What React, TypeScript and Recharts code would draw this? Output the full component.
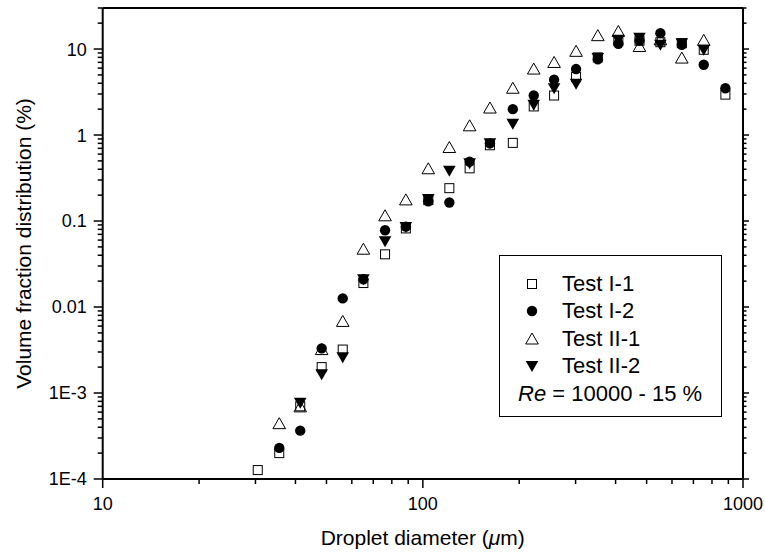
import { ScatterChart, Scatter, XAxis, YAxis, Legend } from 'recharts';

// droplet size classes (um), shared by all four tests
const diameter = [30.5, 35.6, 41.4, 48.3, 56.2, 65.2, 76.2, 88.5, 104, 121, 140, 162, 191, 222, 257, 301, 352, 408, 475, 552, 644, 754, 881];

// volume fraction (%) per class, null = no marker
const testI1 = [1.27e-4, 2.0e-4, 7.0e-4, 2.0e-3, 3.2e-3, 0.019, 0.041, 0.082, 0.175, 0.241, 0.41, 0.76, 0.81, 2.15, 2.88, 4.72, 8.0, 12.5, 12.5, 12.0, 11.7, 9.8, 2.95];
const testI2 = [null, 2.3e-4, 3.65e-4, 3.3e-3, 0.0126, 0.021, 0.078, 0.086, 0.17, 0.164, 0.49, 0.8, 2.0, 2.88, 4.4, 5.85, 7.6, 11.5, 12.5, 15.3, 11.2, 6.57, 3.5];
const testII1 = [null, 4.4e-4, 6.9e-4, 3.2e-3, 6.8e-3, 0.047, 0.115, 0.176, 0.405, 0.716, 1.28, 2.06, 3.5, 5.85, 6.98, 9.4, 14.3, 16.0, 10.7, 12.8, 7.85, 12.6, null];
const testII2 = [null, null, 7.7e-4, 1.65e-3, 2.6e-3, 0.021, 0.058, 0.085, 0.18, 0.384, 0.47, 0.8, 1.35, 2.25, 3.5, 3.95, 7.85, 12.8, 13.5, 11.2, 11.7, 9.8, null];

const xMajor = [10, 100, 1000];
const xMajorLabels = ['10', '100', '1000'];
const yMajor = [1e-4, 1e-3, 0.01, 0.1, 1, 10];
const yMajorLabels = ['1E-4', '1E-3', '0.01', '0.1', '1', '10'];

const FONT = '"Liberation Sans", Arial, Helvetica, sans-serif';

// minor ticks 2..9 within each decade, clipped to the axis range
const minorTicks = (lo: number, hi: number) => {
  const out: number[] = [];
  for (let d = lo; d < hi; d *= 10) {
    for (let m = 2; m <= 9; m++) {
      const v = parseFloat((d * m).toPrecision(6));
      if (v <= hi) out.push(v);
    }
  }
  return out;
};
const xTicks = [...xMajor, ...minorTicks(10, 1000)].sort((a, b) => a - b);
const yTicks = [...yMajor, ...minorTicks(1e-4, 30)].sort((a, b) => a - b);

const isMajor = (v: number) => Math.abs(Math.log10(v) - Math.round(Math.log10(v))) < 1e-6;
const labelFor = (v: number, majors: number[], labels: string[]) => {
  const i = majors.findIndex((m) => Math.abs(Math.log10(m) - Math.log10(v)) < 1e-6);
  return i >= 0 ? labels[i] : '';
};

const toPoints = (vals: (number | null)[]) =>
  diameter.map((x, i) => ({ x, y: vals[i] })).filter((p) => p.y != null);

// marker shapes
const Square = ({ cx, cy }: any) => (
  <rect x={cx - 4.5} y={cy - 4.5} width={9} height={9} fill="none" stroke="#000" strokeWidth={1} />
);
const Circle = ({ cx, cy }: any) => <circle cx={cx} cy={cy} r={5.2} fill="#000" />;
const TriUp = ({ cx, cy }: any) => (
  <path d={`M${cx},${cy - 6} L${cx + 6.3},${cy + 5} L${cx - 6.3},${cy + 5} Z`} fill="none" stroke="#000" strokeWidth={1} />
);
const TriDown = ({ cx, cy }: any) => (
  <path d={`M${cx - 6.3},${cy - 5} L${cx + 6.3},${cy - 5} L${cx},${cy + 6} Z`} fill="#000" />
);

const series = [
  { name: 'Test I-1', data: toPoints(testI1), shape: Square },
  { name: 'Test I-2', data: toPoints(testI2), shape: Circle },
  { name: 'Test II-1', data: toPoints(testII1), shape: TriUp },
  { name: 'Test II-2', data: toPoints(testII2), shape: TriDown },
];

const BottomTick = ({ x, y, payload }: any) => {
  const major = isMajor(payload.value);
  return (
    <g>
      <line x1={x} x2={x} y1={y} y2={y + (major ? 9 : 5)} stroke="#000" strokeWidth={1.5} />
      {major && (
        <text x={x} y={y + 31} textAnchor="middle" fontSize={18} fontFamily={FONT} fill="#000">
          {labelFor(payload.value, xMajor, xMajorLabels)}
        </text>
      )}
    </g>
  );
};

const TopTick = ({ x, y, payload }: any) => (
  <line x1={x} x2={x} y1={y} y2={y + (isMajor(payload.value) ? 6 : 3.5)} stroke="#000" strokeWidth={1.5} />
);

const LeftTick = ({ x, y, payload }: any) => {
  const major = isMajor(payload.value);
  return (
    <g>
      <line x1={x - (major ? 9 : 5)} x2={x} y1={y} y2={y} stroke="#000" strokeWidth={1.5} />
      {major && (
        <text x={x - 16} y={y} dy="0.36em" textAnchor="end" fontSize={18} fontFamily={FONT} fill="#000">
          {labelFor(payload.value, yMajor, yMajorLabels)}
        </text>
      )}
    </g>
  );
};

const RightTick = ({ x, y, payload }: any) => (
  <line x1={x} x2={x + (isMajor(payload.value) ? 6 : 3.5)} y1={y} y2={y} stroke="#000" strokeWidth={1.5} />
);

const XTitle = () => (
  <text x={422.7} y={545} textAnchor="middle" fontSize={21} fontFamily={FONT} fill="#000">
    Droplet diameter (<tspan fontStyle="italic">μ</tspan>m)
  </text>
);

const YTitle = () => (
  <text
    x={0}
    y={0}
    transform="translate(31, 243.5) rotate(-90)"
    textAnchor="middle"
    fontSize={21}
    fontFamily={FONT}
    fill="#000"
  >
    Volume fraction distribution (%)
  </text>
);

const legendIcon = (name: string) => {
  const s = series.find((e) => e.name === name);
  const Shape = s ? s.shape : Square;
  return (
    <svg width={16} height={16} style={{ display: 'block' }}>
      <Shape cx={8} cy={8} />
    </svg>
  );
};

const LegendBox = ({ payload }: any) => {
  const items = payload && payload.length ? payload.map((p: any) => p.value) : series.map((s) => s.name);
  return (
    <div
      style={{
        width: 223,
        height: 162,
        boxSizing: 'border-box',
        border: '1px solid #000',
        padding: '14px 0 0 0',
        fontFamily: FONT,
        fontSize: 22,
        color: '#000',
      }}
    >
      {items.map((name: string) => (
        <div key={name} style={{ display: 'flex', alignItems: 'center', height: 27.5 }}>
          <div style={{ width: 62, display: 'flex', justifyContent: 'center' }}>
            <div style={{ marginLeft: 1 }}>{legendIcon(name)}</div>
          </div>
          <span>{name}</span>
        </div>
      ))}
      <div style={{ height: 27.5, display: 'flex', alignItems: 'center', paddingLeft: 18 }}>
        <span>
          <i>Re</i> = 10000 - 15 %
        </span>
      </div>
    </div>
  );
};

export default function App() {
  const axisLine = { stroke: '#000', strokeWidth: 2 };
  return (
    <div style={{ position: 'absolute', left: 0, top: 0, width: 765, height: 554, background: '#fff' }}>
      <ScatterChart width={765} height={554} margin={{ top: 0, right: 2, bottom: 5, left: 2.7 }}>
        <XAxis
          xAxisId="b"
          dataKey="x"
          type="number"
          scale="log"
          domain={[10, 1000]}
          allowDataOverflow
          ticks={xTicks}
          interval={0}
          tickSize={0}
          tickMargin={0}
          tick={BottomTick}
          axisLine={axisLine}
          height={70}
          label={<XTitle />}
        />
        <XAxis
          xAxisId="t"
          orientation="top"
          type="number"
          scale="log"
          domain={[10, 1000]}
          allowDataOverflow
          ticks={xTicks}
          interval={0}
          tickSize={0}
          tickMargin={0}
          tick={TopTick}
          axisLine={axisLine}
          height={8}
        />
        <YAxis
          yAxisId="l"
          dataKey="y"
          type="number"
          scale="log"
          domain={[1e-4, 30]}
          allowDataOverflow
          ticks={yTicks}
          interval={0}
          tickSize={0}
          tickMargin={0}
          tick={LeftTick}
          axisLine={axisLine}
          width={100}
          label={<YTitle />}
        />
        <YAxis
          yAxisId="r"
          orientation="right"
          type="number"
          scale="log"
          domain={[1e-4, 30]}
          allowDataOverflow
          ticks={yTicks}
          interval={0}
          tickSize={0}
          tickMargin={0}
          tick={RightTick}
          axisLine={axisLine}
          width={20}
        />
        <Legend
          layout="vertical"
          align="center"
          verticalAlign="middle"
          content={LegendBox}
          wrapperStyle={{ left: 499, top: 255, width: 223, height: 162 }}
        />
        {series.map((s) => (
          <Scatter
            key={s.name}
            name={s.name}
            data={s.data}
            xAxisId="b"
            yAxisId="l"
            shape={s.shape}
            fill="#000"
            isAnimationActive={false}
          />
        ))}
      </ScatterChart>
    </div>
  );
}
